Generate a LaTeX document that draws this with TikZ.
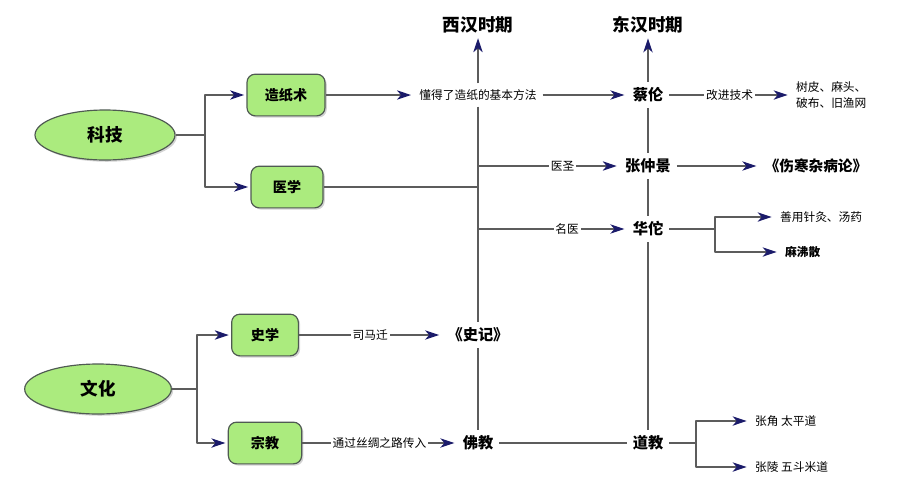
\documentclass[tikz,border=0pt]{standalone}
\usepackage{fontspec}
\setmainfont{Noto Sans CJK SC}
\usetikzlibrary{arrows.meta,shapes.geometric,shadows}
\definecolor{leafgreen}{HTML}{ABEB7E}
\definecolor{rimgrey}{HTML}{4F5A52}
\definecolor{linegrey}{HTML}{5C5C5C}
\definecolor{tipblue}{HTML}{1B1B6A}
\begin{document}
\begin{tikzpicture}[x=0.03cm, y=-0.03cm, line join=round,
	>={Stealth[length=12pt,width=8pt,inset=3.5pt,color=tipblue,fill=tipblue]},
	line/.style={draw=linegrey, line width=1pt},
	arr/.style={line, ->, shorten >=2pt},
	topic/.style={ellipse, draw=rimgrey, fill=leafgreen, line width=1pt, minimum height=1.5cm,
		font=\fontsize{15}{17}\selectfont\bfseries, drop shadow={shadow xshift=1.5pt, shadow yshift=-1.5pt, opacity=0.35}},
	sub/.style={rectangle, rounded corners=7pt, draw=rimgrey, fill=leafgreen, line width=1pt,
		minimum width=2.2cm, minimum height=1.25cm, font=\fontsize{12}{14}\selectfont\bfseries,
		drop shadow={shadow xshift=1.5pt, shadow yshift=-1.5pt, opacity=0.35}},
	era/.style={font=\fontsize{15}{17}\selectfont\bfseries, inner sep=2pt},
	who/.style={font=\fontsize{13}{15}\selectfont\bfseries, inner sep=5pt},
	note/.style={font=\fontsize{10}{12}\selectfont, inner sep=5pt},
	mid/.style={font=\fontsize{10}{12}\selectfont, fill=white, inner sep=1.5pt}]
	\useasboundingbox (0,0) rectangle (900,495);
	% 左侧主题
	\node[topic, minimum width=4.2cm] (kj) at (105,135) {科技};
	\node[topic, minimum width=4.4cm] (wh) at (98,389) {文化};
	\node[sub, minimum width=2.34cm] (zzs) at (286,95) {造纸术};
	\node[sub, minimum width=2.16cm] (yx) at (287,187) {医学};
	\node[sub, minimum width=2cm] (sx) at (265,335) {史学};
	\node[sub] (zj) at (265,443) {宗教};
	\coordinate (kjb) at (205,135);
	\coordinate (whb) at (197,389);
	\draw[line] (kj) -- (kjb);
	\draw[arr] (kjb) |- (zzs);
	\draw[arr] (kjb) |- (yx);
	\draw[line] (wh) -- (whb);
	\draw[arr] (whb) |- (sx);
	\draw[arr] (whb) |- (zj);
	% 两汉
	\node[era] (xh) at (478,25) {西汉时期};
	\node[era] (dh) at (648,25) {东汉时期};
	\node[note] (ff) at (478,95) {懂得了造纸的基本方法};
	\node[who] (cl) at (648,95) {蔡伦};
	\node[note, anchor=west, align=left, font=\fontsize{10}{13}\selectfont] (sp) at (790,95) {树皮、麻头、\\破布、旧渔网};
	\node[who] (zzj) at (648,166) {张仲景};
	\node[who, font=\fontsize{12.5}{15}\selectfont\bfseries] (shz) at (816,166) {《伤寒杂病论》};
	\node[who] (ht) at (648,229) {华佗};
	\node[note, anchor=west] (zy) at (774,217) {善用针灸、汤药};
	\node[note, anchor=west, font=\fontsize{10}{12}\selectfont\bfseries] (mfs) at (779,252) {麻沸散};
	\node[who] (sj) at (478,335) {《史记》};
	\node[who] (fj) at (478,443) {佛教};
	\node[who] (dj) at (648,443) {道教};
	\node[note, anchor=west] (zjt) at (749,421) {张角 太平道};
	\node[note, anchor=west] (zlw) at (749,467) {张陵 五斗米道};
	\coordinate (htb) at (715,229);
	\coordinate (djb) at (696,443);
	% 连线
	\draw[arr] (zzs) -- (ff);
	\draw[arr] (ff) -- (cl);
	\draw[arr] (ff) -- (xh);
	\draw[arr] (cl) -- (dh);
	\draw[arr] (cl) -- node[mid]{改进技术} (sp);
	\draw[line] (ff) -- (sj);
	\draw[line] (sj) -- (fj);
	\draw[line] (yx) -- (yx -| ff);
	\draw[arr] (ff |- zzj) -- node[mid, pos=0.6]{医圣} (zzj);
	\draw[arr] (ff |- ht) -- node[mid, pos=0.6]{名医} (ht);
	\draw[line] (cl) -- (zzj);
	\draw[line] (zzj) -- (ht);
	\draw[line] (ht) -- (dj);
	\draw[arr] (zzj) -- (shz);
	\draw[line] (ht) -- (htb);
	\draw[arr] (htb) |- (zy);
	\draw[arr] (htb) |- (mfs);
	\draw[arr] (sx) -- node[mid]{司马迁} (sj);
	\draw[arr] (zj) -- node[mid]{通过丝绸之路传入} (fj);
	\draw[line] (fj) -- (dj);
	\draw[line] (dj) -- (djb);
	\draw[arr] (djb) |- (zjt);
	\draw[arr] (djb) |- (zlw);
\end{tikzpicture}
\end{document}
